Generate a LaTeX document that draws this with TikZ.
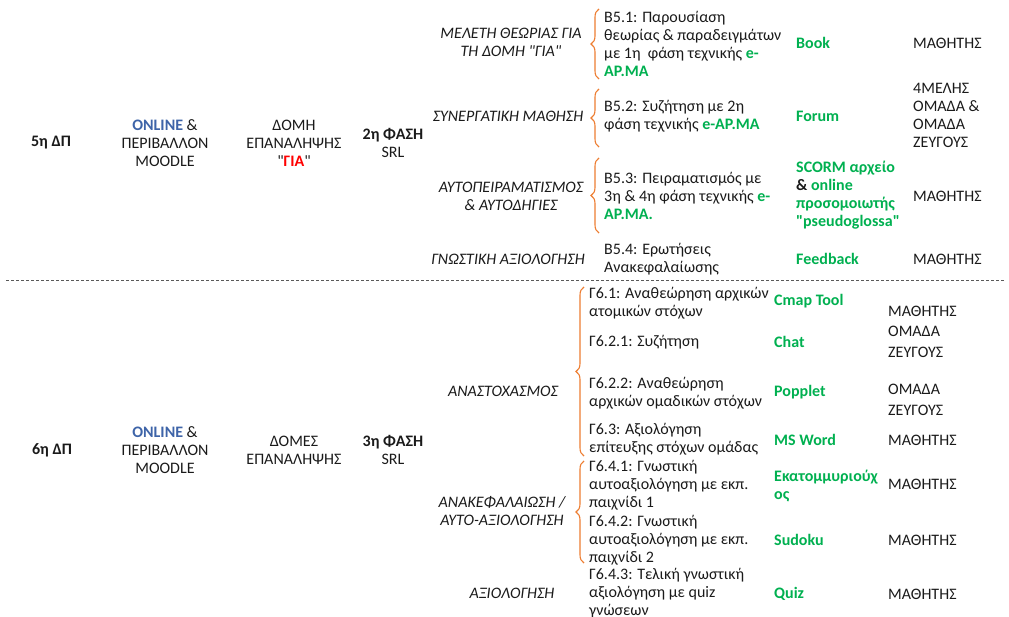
\documentclass[tikz,border=0pt]{standalone}
\usepackage{fontspec}
\setmainfont{Carlito}[Ligatures=TeXOff]
\usetikzlibrary{decorations.pathreplacing}
\definecolor{toolgreen}{HTML}{00B050}
\definecolor{braceorange}{HTML}{ED7D31}
\definecolor{onlineblue}{HTML}{3E64A8}
\definecolor{giared}{HTML}{FF0000}
\definecolor{txtgray}{HTML}{1A1A1A}
\newcommand{\gr}[1]{\textcolor{toolgreen}{\textbf{#1}}}
\newcommand{\onl}{\textcolor{onlineblue}{\textbf{ONLINE}} \&}
\begin{document}
\begin{tikzpicture}[x=1pt,y=-1pt,
    every node/.style={inner sep=0pt, text=txtgray, font=\fontsize{16}{18}\selectfont},
    head/.style={align=center},
    lbl/.style={align=center, font=\fontsize{16}{18}\selectfont\itshape},
    desc/.style={anchor=west, align=left},
    tool/.style={anchor=west, align=left, text=toolgreen, font=\fontsize{16}{18}\selectfont\bfseries},
    role/.style={anchor=west, align=left},
    brc/.style={draw=braceorange, line width=1.1pt, decorate, decoration={brace, amplitude=8pt}}]
  \useasboundingbox (0,0) rectangle (1009,617);

  % 5th session
  \node[head, font=\fontsize{16}{18}\selectfont\bfseries] (dp5) at (51,143) {5η ΔΠ};
  \node[head] (env5) at (165,143) {\onl\\ΠΕΡΙΒΑΛΛΟΝ\\MOODLE};
  \node[head] (str5) at (294,143) {ΔΟΜΗ\\ΕΠΑΝΑΛΗΨΗΣ\\"\textcolor{giared}{\textbf{ΓΙΑ}}"};
  \node[head] (ph5) at (393,143) {\textbf{2η ΦΑΣΗ}\\SRL};

  \node[lbl] (m51) at (511,42) {ΜΕΛΕΤΗ ΘΕΩΡΙΑΣ ΓΙΑ\\ΤΗ ΔΟΜΗ "ΓΙΑ"};
  \node[lbl] (m52) at (508,116) {ΣΥΝΕΡΓΑΤΙΚΗ ΜΑΘΗΣΗ};
  \node[lbl] (m53) at (511,196) {ΑΥΤΟΠΕΙΡΑΜΑΤΙΣΜΟΣ\\\& ΑΥΤΟΔΗΓΙΕΣ};
  \node[lbl] (m54) at (508,259) {ΓΝΩΣΤΙΚΗ ΑΞΙΟΛΟΓΗΣΗ};

  \node[desc] (t51) at (604,44) {Β5.1: Παρουσίαση\\θεωρίας \& παραδειγμάτων\\με 1η\ \ φάση τεχνικής \gr{e-}\\\gr{ΑΡ.ΜΑ}};
  \node[desc] (t52) at (604,116) {Β5.2: Συζήτηση με 2η\\φάση τεχνικής \gr{e-ΑΡ.ΜΑ}};
  \node[desc] (t53) at (604,196) {Β5.3: Πειραματισμός με\\3η \& 4η φάση τεχνικής \gr{e-}\\\gr{ΑΡ.ΜΑ.}};
  \node[desc] (t54) at (604,259) {Β5.4: Ερωτήσεις\\Ανακεφαλαίωσης};

  \node[tool] (k51) at (796,43) {Book};
  \node[tool] (k52) at (796,116) {Forum};
  \node[tool] (k53) at (796,195) {SCORM αρχείο\\\textcolor{txtgray}{\&} online\\προσομοιωτής\\"pseudoglossa"};
  \node[tool] (k54) at (796,259) {Feedback};

  \node[role] (r51) at (913,43) {ΜΑΘΗΤΗΣ};
  \node[role] (r52) at (913,115) {4ΜΕΛΗΣ\\ΟΜΑΔΑ \&\\ΟΜΑΔΑ\\ΖΕΥΓΟΥΣ};
  \node[role] (r53) at (913,196) {ΜΑΘΗΤΗΣ};
  \node[role] (r54) at (913,259) {ΜΑΘΗΤΗΣ};

  \coordinate (b51a) at (599,79);
  \coordinate (b51b) at (599,9);
  \coordinate (b52a) at (599,147);
  \coordinate (b52b) at (599,89);
  \coordinate (b53a) at (599,233);
  \coordinate (b53b) at (599,158);
  \draw[brc] (b51a) -- (b51b);
  \draw[brc] (b52a) -- (b52b);
  \draw[brc] (b53a) -- (b53b);

  % separator
  \coordinate (sepl) at (6,280);
  \coordinate (sepr) at (1005,280);
  \draw[gray!70!black, line width=0.8pt, dash pattern=on 3pt off 2pt] (sepl) -- (sepr);

  % 6th session
  \node[head, font=\fontsize{16}{18}\selectfont\bfseries] (dp6) at (52,450) {6η ΔΠ};
  \node[head] (env6) at (165,450) {\onl\\ΠΕΡΙΒΑΛΛΟΝ\\MOODLE};
  \node[head] (str6) at (294,450) {ΔΟΜΕΣ\\ΕΠΑΝΑΛΗΨΗΣ};
  \node[head] (ph6) at (393,450) {\textbf{3η ΦΑΣΗ}\\SRL};

  \node[lbl] (m61) at (503,391) {ΑΝΑΣΤΟΧΑΣΜΟΣ};
  \node[lbl] (m64) at (502,511) {ΑΝΑΚΕΦΑΛΑΙΩΣΗ /\\ΑΥΤΟ-ΑΞΙΟΛΟΓΗΣΗ};
  \node[lbl] (m65) at (512,593) {ΑΞΙΟΛΟΓΗΣΗ};

  \node[desc] (t61) at (589,303) {Γ6.1: Αναθεώρηση αρχικών\\ατομικών στόχων};
  \node[desc] (t621) at (589,342) {Γ6.2.1: Συζήτηση};
  \node[desc] (t622) at (589,393) {Γ6.2.2: Αναθεώρηση\\αρχικών ομαδικών στόχων};
  \node[desc] (t63) at (589,439) {Γ6.3: Αξιολόγηση\\επίτευξης στόχων ομάδας};
  \node[desc] (t641) at (589,485) {Γ6.4.1: Γνωστική\\αυτοαξιολόγηση με εκπ.\\παιχνίδι 1};
  \node[desc] (t642) at (589,540) {Γ6.4.2: Γνωστική\\αυτοαξιολόγηση με εκπ.\\παιχνίδι 2};
  \node[desc] (t643) at (589,593) {Γ6.4.3: Τελική γνωστική\\αξιολόγηση με quiz\\γνώσεων};

  \node[tool] (k61) at (774,301) {Cmap Tool};
  \node[tool] (k621) at (774,342) {Chat};
  \node[tool] (k622) at (774,392) {Popplet};
  \node[tool] (k63) at (774,440) {MS Word};
  \node[tool] (k641) at (774,486) {Εκατομμυριούχ\\ος};
  \node[tool] (k642) at (774,540) {Sudoku};
  \node[tool] (k643) at (774,594) {Quiz};

  \node[role] (r61) at (888,311) {ΜΑΘΗΤΗΣ};
  \node[role] (r621) at (888,342) {ΟΜΑΔΑ\\[3pt]ΖΕΥΓΟΥΣ};
  \node[role] (r622) at (888,400) {ΟΜΑΔΑ\\[3pt]ΖΕΥΓΟΥΣ};
  \node[role] (r63) at (888,440) {ΜΑΘΗΤΗΣ};
  \node[role] (r641) at (888,484) {ΜΑΘΗΤΗΣ};
  \node[role] (r642) at (888,540) {ΜΑΘΗΤΗΣ};
  \node[role] (r643) at (888,594) {ΜΑΘΗΤΗΣ};

  \coordinate (b61a) at (584,456);
  \coordinate (b61b) at (584,287);
  \coordinate (b64a) at (584,563);
  \coordinate (b64b) at (584,461);
  \draw[brc] (b61a) -- (b61b);
  \draw[brc] (b64a) -- (b64b);
\end{tikzpicture}
\end{document}
